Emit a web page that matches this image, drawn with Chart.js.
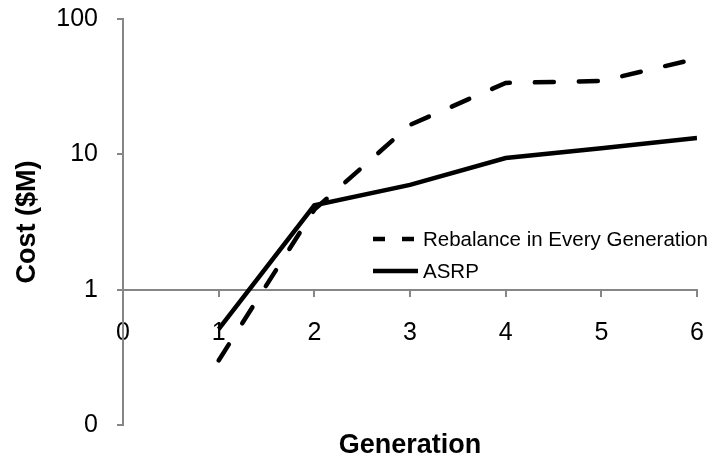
<!DOCTYPE html>
<html>
<head>
<meta charset="utf-8">
<script src="https://cdn.jsdelivr.net/npm/chart.js@4.4.1/dist/chart.umd.min.js"></script>
<style>
  body { margin: 0; background: #fff; }
</style>
</head>
<body>
<canvas id="costChart" width="723" height="460"></canvas>
<script>
// values
var generations = [1, 2, 3, 4, 5, 6];
var rebalanceCost = [0.3, 3.9, 16.5, 33.7, 34.8, 51];
var asrpCost = [0.51, 4.2, 5.95, 9.4, 11.1, 13.2];
var yTickValues = [0.1, 1, 10, 100];
var yTickLabels = ['0', '1', '10', '100'];

var fontFamily = '"Liberation Sans", Arial, sans-serif';
var axisGrey = '#868686';

function toPoints(xs, ys) {
  return xs.map(function (x, i) { return { x: x, y: ys[i] }; });
}

// legend drawn inside the plot, like the original
var insideLegend = {
  id: 'insideLegend',
  afterDraw: function (chart) {
    var ctx = chart.ctx;
    var rows = [239, 271];
    ctx.save();
    chart.data.datasets.forEach(function (ds, i) {
      var y = rows[i];
      ctx.beginPath();
      ctx.strokeStyle = ds.borderColor;
      ctx.lineWidth = 4.5;
      ctx.lineCap = 'butt';
      ctx.setLineDash(ds.borderDash && ds.borderDash.length ? [12, 17] : []);
      ctx.moveTo(373, y);
      ctx.lineTo(418, y);
      ctx.stroke();
      ctx.setLineDash([]);
      ctx.fillStyle = '#000';
      ctx.font = '20.5px ' + fontFamily;
      ctx.textAlign = 'left';
      ctx.textBaseline = 'middle';
      ctx.fillText(ds.label, 423, y + 1);
    });
    ctx.restore();
  }
};

var ctx = document.getElementById('costChart');
var costChart = new Chart(ctx, {
  type: 'line',
  data: {
    datasets: [{
      label: 'Rebalance in Every Generation',
      data: toPoints(generations, rebalanceCost),
      borderColor: '#000',
      borderWidth: 4.5,
      borderDash: [19, 25],
      borderCapStyle: 'round',
      pointRadius: 0,
      tension: 0,
      fill: false
    }, {
      label: 'ASRP',
      data: toPoints(generations, asrpCost),
      borderColor: '#000',
      borderWidth: 4.5,
      borderCapStyle: 'butt',
      pointRadius: 0,
      tension: 0,
      fill: false
    }]
  },
  options: {
    responsive: false,
    animation: false,
    layout: { padding: { top: 19, right: 26, left: 0, bottom: 0 } },
    plugins: {
      legend: { display: false },
      tooltip: { enabled: false },
      title: {
        display: true,
        fullSize: false,
        position: 'bottom',
        text: 'Generation',
        color: '#000',
        font: { family: fontFamily, size: 27, weight: 'bold', lineHeight: 1 },
        padding: { top: 7, bottom: 1 }
      }
    },
    scales: {
      x: {
        type: 'linear',
        position: { y: 1 },
        min: 0,
        max: 6,
        ticks: {
          stepSize: 1,
          color: '#000',
          padding: 22,
          font: { family: fontFamily, size: 25 }
        },
        grid: {
          drawOnChartArea: false,
          drawTicks: true,
          tickLength: 6,
          color: axisGrey,
          lineWidth: 2
        },
        border: { color: axisGrey, width: 2 },
        afterFit: function (scale) {
          scale.height = 0;
          scale.paddingTop = 0;
          scale.paddingBottom = 0;
          scale.paddingLeft = 0;
          scale.paddingRight = 0;
        }
      },
      y: {
        type: 'logarithmic',
        position: 'left',
        min: 0.1,
        max: 100,
        afterBuildTicks: function (scale) {
          scale.ticks = yTickValues.map(function (v) { return { value: v }; });
        },
        ticks: {
          color: '#000',
          padding: 19,
          font: { family: fontFamily, size: 25 },
          callback: function (value) {
            var i = yTickValues.indexOf(value);
            return i >= 0 ? yTickLabels[i] : '';
          }
        },
        grid: {
          drawOnChartArea: false,
          drawTicks: true,
          tickLength: 6,
          color: axisGrey,
          lineWidth: 2
        },
        border: { color: axisGrey, width: 2 },
        title: {
          display: true,
          text: 'Cost ($M)',
          color: '#000',
          font: { family: fontFamily, size: 27, weight: 'bold', lineHeight: 1 },
          padding: { top: 14, bottom: 0 }
        },
        afterFit: function (scale) {
          scale.width = 123;
          scale.paddingTop = 0;
          scale.paddingBottom = 0;
        }
      }
    }
  },
  plugins: [insideLegend]
});
</script>
</body>
</html>
